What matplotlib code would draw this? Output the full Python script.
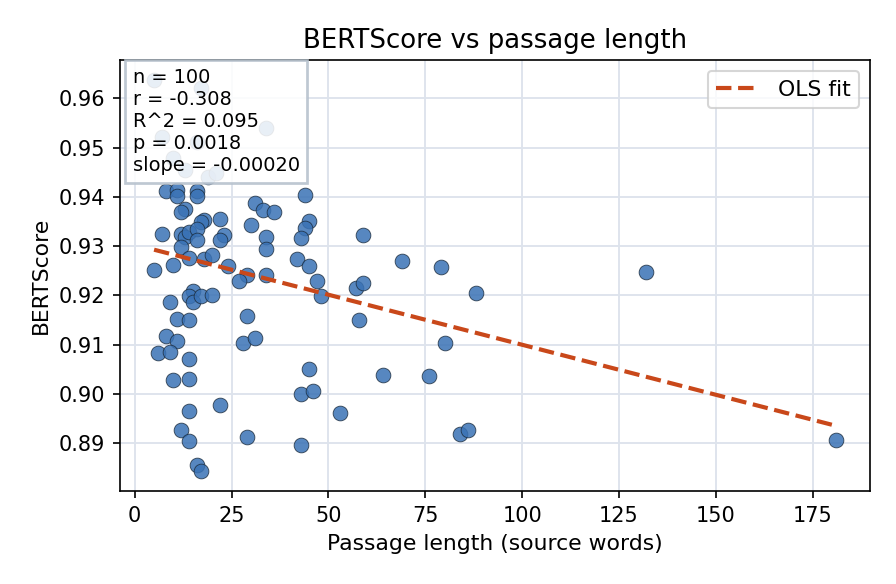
import numpy as np
import matplotlib
matplotlib.use("Agg")
import matplotlib.pyplot as plt

# passage length (source words) and BERTScore
passage_words = [5, 17, 34, 7, 16, 10, 13, 19, 21, 8,
                 11, 11, 16, 16, 44, 13, 12, 18, 17, 22,
                 31, 33, 36, 30, 45, 44, 43, 7, 12, 13,
                 14, 16, 16, 12, 23, 22, 34, 34, 14, 18,
                 20, 5, 10, 24, 29, 34, 42, 45, 27, 47,
                 48, 9, 15, 14, 15, 17, 20, 11, 14, 29,
                 8, 11, 6, 9, 14, 28, 31, 10, 14, 45,
                 43, 46, 22, 14, 53, 12, 14, 29, 43, 16,
                 17, 59, 69, 79, 88, 57, 59, 58, 80, 64,
                 76, 84, 86, 132, 181]
bertscore = [0.9638, 0.9621, 0.9539, 0.9522, 0.9512, 0.9478, 0.9455, 0.9441, 0.9448, 0.9412,
             0.9414, 0.9401, 0.9412, 0.9401, 0.9404, 0.9375, 0.9370, 0.9353, 0.9350, 0.9356,
             0.9387, 0.9373, 0.9369, 0.9343, 0.9351, 0.9336, 0.9317, 0.9324, 0.9324, 0.9319,
             0.9329, 0.9335, 0.9312, 0.9299, 0.9322, 0.9312, 0.9319, 0.9295, 0.9276, 0.9273,
             0.9283, 0.9251, 0.9261, 0.9260, 0.9242, 0.9242, 0.9273, 0.9260, 0.9229, 0.9229,
             0.9198, 0.9186, 0.9210, 0.9198, 0.9186, 0.9198, 0.9200, 0.9153, 0.9150, 0.9158,
             0.9117, 0.9107, 0.9084, 0.9085, 0.9072, 0.9104, 0.9113, 0.9029, 0.9031, 0.9051,
             0.9000, 0.9006, 0.8978, 0.8966, 0.8961, 0.8927, 0.8904, 0.8913, 0.8897, 0.8855,
             0.8843, 0.9322, 0.9269, 0.9258, 0.9205, 0.9216, 0.9226, 0.9150, 0.9104, 0.9038,
             0.9036, 0.8919, 0.8928, 0.9248, 0.8906]

# OLS fit as drawn in the reference
ols_slope = -0.000203
ols_intercept = 0.9303

stats_lines = ["n = 100", "r = -0.308", "R^2 = 0.095", "p = 0.0018", "slope = -0.00020"]

x = np.array(passage_words, dtype=float)
y = np.array(bertscore)
xs = np.array([x.min(), x.max()])

fig = plt.figure(figsize=(896 / 150, 584 / 150), dpi=150)
ax = fig.add_axes([120 / 896, 1 - 491 / 584, 750 / 896, 431 / 584])

ax.grid(True, color="#dde3ec", linewidth=0.9)
ax.set_axisbelow(True)
ax.scatter(x, y, s=50, color="#3a72b5", alpha=0.85, edgecolors="#1a2a3a", linewidths=0.4, zorder=2)
ax.plot(xs, ols_intercept + ols_slope * xs, "--", color="#c9481a", linewidth=2, label="OLS fit", zorder=3)

ax.set_title("BERTScore vs passage length", fontsize=12.5)
ax.set_xlabel("Passage length (source words)", fontsize=10.5)
ax.set_ylabel("BERTScore", fontsize=10.5)
ax.tick_params(labelsize=10)
ax.set_xticks([0, 25, 50, 75, 100, 125, 150, 175])

ax.legend(loc="upper right", fontsize=10.5)
ax.text(0.0167, 0.982, "\n".join(stats_lines), transform=ax.transAxes, va="top", ha="left",
        fontsize=9.3, zorder=5,
        bbox=dict(boxstyle="square,pad=0.4", facecolor="white", edgecolor="#b5c0cc",
                  linewidth=1.3, alpha=0.87))

fig.savefig("out.png", dpi=150)
